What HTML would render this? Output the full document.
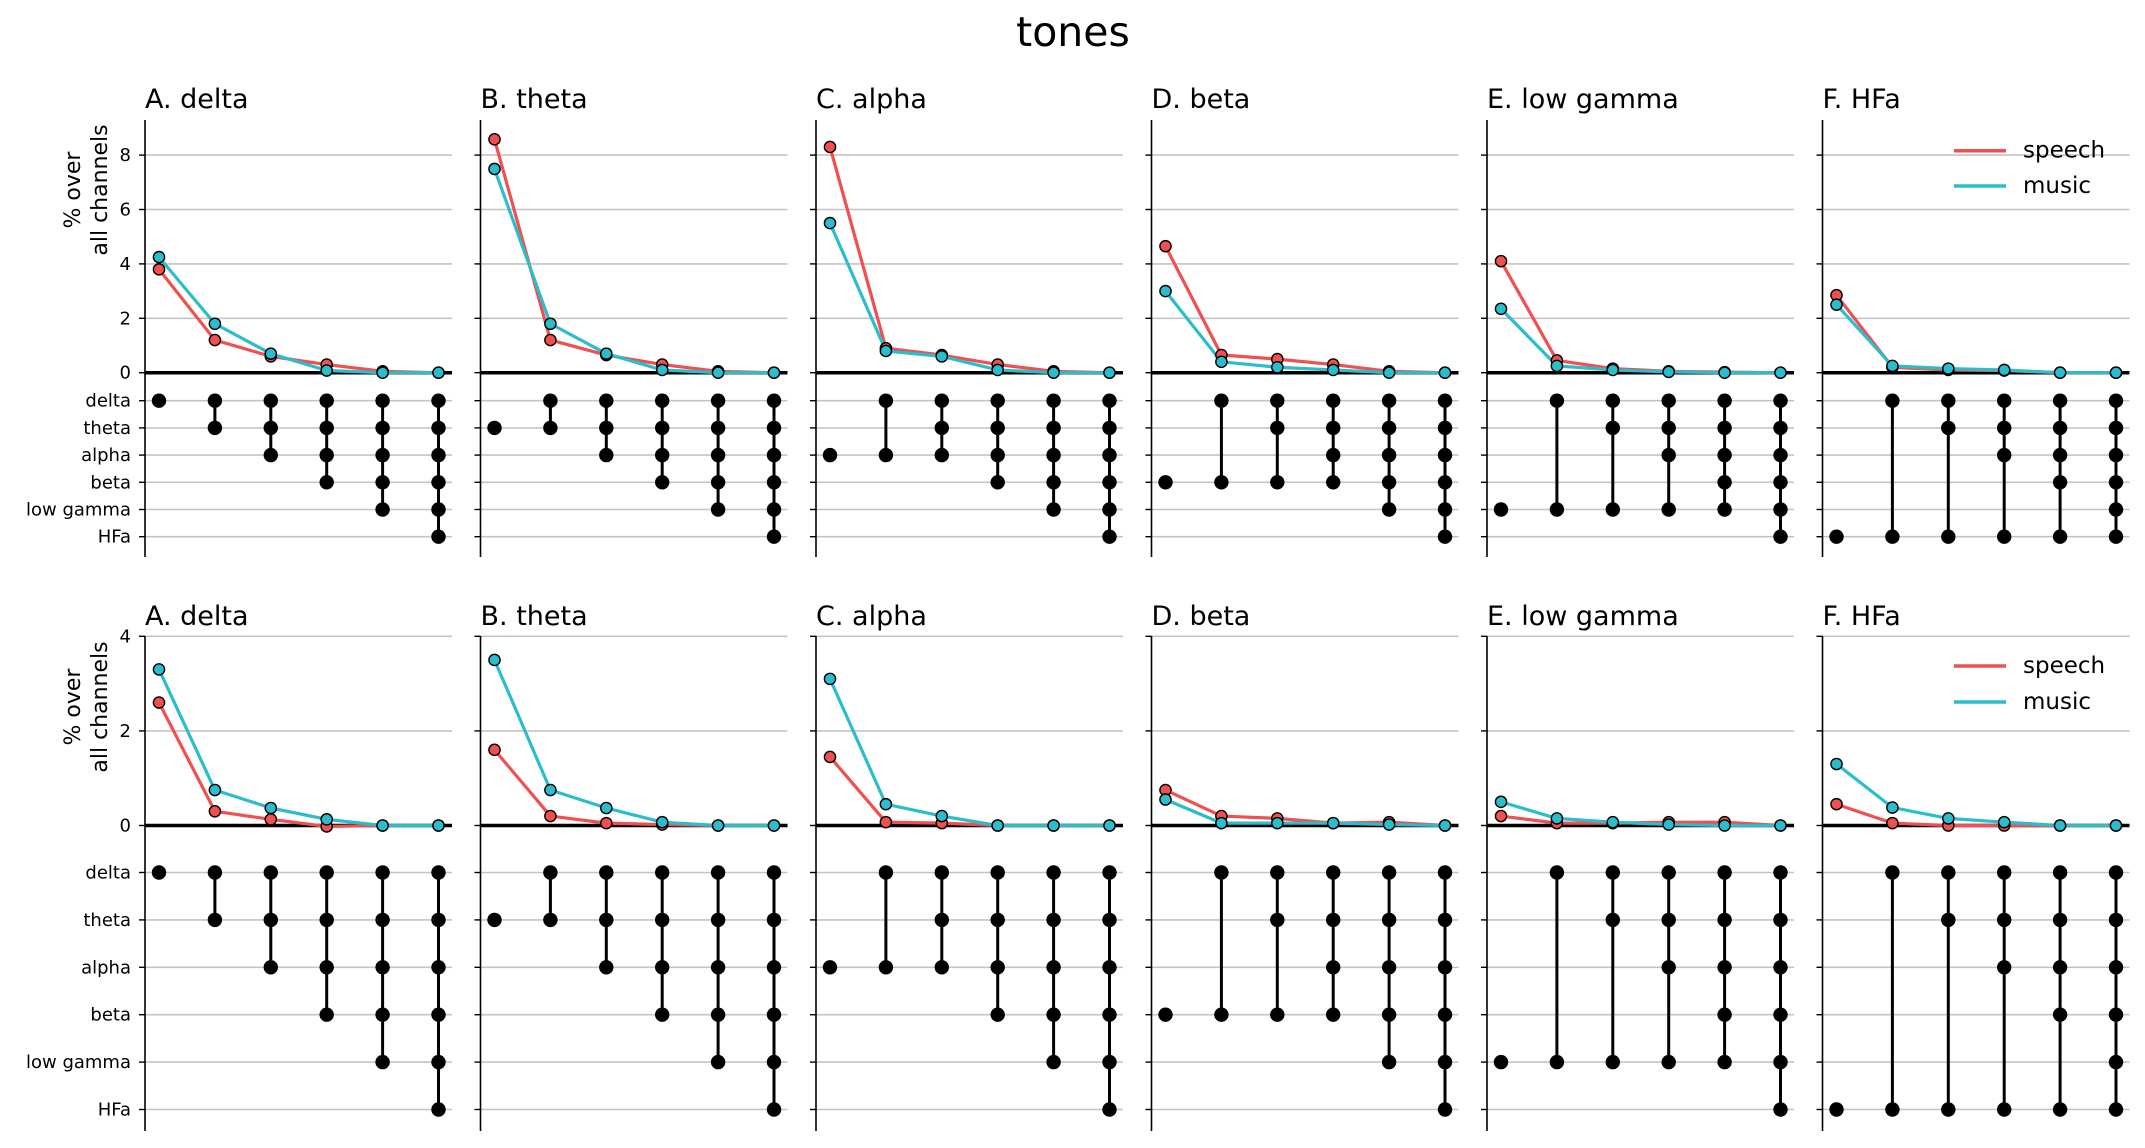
<!DOCTYPE html>
<html><head><meta charset="utf-8"><style>
html,body{margin:0;padding:0;background:#fff;}
svg{display:block;font-family:"DejaVu Sans","Liberation Sans",sans-serif;}
</style></head><body>
<svg id="fig" width="2145" height="1148" viewBox="0 0 2145 1148" xmlns="http://www.w3.org/2000/svg">
<text x="1073" y="46" font-size="41" text-anchor="middle" fill="#000">tones</text>
</svg>
<script>
const panelTitles = ["A. delta","B. theta","C. alpha","D. beta","E. low gamma","F. HFa"];
const bandLabels = ["delta","theta","alpha","beta","low gamma","HFa"];
const topTicks = [0,2,4,6,8];
const botTicks = [0,2,4];
const topSpeech = [
 [3.8,1.2,0.6,0.3,0.05,0],
 [8.58,1.2,0.65,0.3,0.05,0],
 [8.3,0.9,0.65,0.3,0.05,0],
 [4.65,0.65,0.5,0.3,0.05,0],
 [4.1,0.45,0.15,0.05,0.02,0],
 [2.85,0.2,0.1,0.08,0,0]];
const topMusic = [
 [4.25,1.8,0.7,0.08,0,0],
 [7.49,1.8,0.7,0.1,0,0],
 [5.5,0.8,0.6,0.1,0,0],
 [3.0,0.4,0.2,0.1,0,0],
 [2.35,0.25,0.1,0.03,0,0],
 [2.5,0.25,0.15,0.1,0,0]];
const botSpeech = [
 [2.6,0.3,0.13,-0.02,0,0],
 [1.6,0.2,0.05,0.02,0,0],
 [1.45,0.07,0.05,0,0,0],
 [0.75,0.2,0.15,0.05,0.07,0],
 [0.2,0.05,0.05,0.07,0.07,0],
 [0.45,0.05,0,0,0,0]];
const botMusic = [
 [3.3,0.75,0.37,0.13,0,0],
 [3.5,0.75,0.37,0.07,0,0],
 [3.1,0.45,0.2,0,0,0],
 [0.55,0.05,0.05,0.05,0.02,0],
 [0.5,0.15,0.07,0.02,0,0],
 [1.3,0.38,0.15,0.07,0,0]];
const seriesNames = ["speech","music"];

const NS="http://www.w3.org/2000/svg";
const svg=document.getElementById('fig');
const RED="#f05050", CYAN="#2bbdcc";
function mk(tag,attrs,parent){const e=document.createElementNS(NS,tag);for(const k in attrs)e.setAttribute(k,attrs[k]);(parent||svg).appendChild(e);return e;}

function combo(k,j){
  if(j===0) return [k];
  const s=[];for(let i=0;i<j;i++)s.push(i);
  if(k>j-1){s.push(k);} else s.push(j);
  return s;
}

const rows=[
 {top:120,zero:372.7,ppu:27.2,ticks:topTicks,sp:topSpeech,mu:topMusic,row0:400.7,rowStep:27.2,bottom:557,titleY:108,ylabY:190,legY:[150.7,186]},
 {top:636,zero:825.5,ppu:47.3,ticks:botTicks,sp:botSpeech,mu:botMusic,row0:872.5,rowStep:47.4,bottom:1131,titleY:625,ylabY:707,legY:[666,702]}
];

rows.forEach((R,ri)=>{
  for(let p=0;p<6;p++){
    const L=145+p*335.5, Rt=L+307;
    const g=mk('g',{});
    
    
    const yv=v=>R.zero-v*R.ppu;
    const xc=j=>L+14+j*55.9;
    const t=mk('text',{x:L,y:R.titleY,'font-size':27,fill:'#000'},g);t.textContent=panelTitles[p];
    
    
    R.ticks.forEach(v=>{
      const y=yv(v);
      if(v!==0){const gl=mk('line',{x1:L,x2:Rt,y1:y,y2:y,stroke:'#c4c4c4','stroke-width':1.6},g);
        
        }
      mk('line',{x1:L-6,x2:L,y1:y,y2:y,stroke:'#000','stroke-width':1.4},g);
      if(p===0){const tl=mk('text',{x:L-14,y:y+6,'font-size':18,'text-anchor':'end',fill:'#000'},g);tl.textContent=v;
        
        }
    });
    bandLabels.forEach((b,i)=>{
      const y=R.row0+i*R.rowStep;
      const gl=mk('line',{x1:L,x2:Rt,y1:y,y2:y,stroke:'#c4c4c4','stroke-width':1.6},g);
      
      
      mk('line',{x1:L-6,x2:L,y1:y,y2:y,stroke:'#000','stroke-width':1.4},g);
      if(p===0){const tl=mk('text',{x:L-14,y:y+6,'font-size':18,'text-anchor':'end',fill:'#000'},g);tl.textContent=b;
        
        }
    });
    const ax=mk('line',{x1:L,x2:L,y1:R.top,y2:R.bottom,stroke:'#000','stroke-width':1.6},g);
    
    
    const zl=mk('line',{x1:L,x2:Rt,y1:R.zero,y2:R.zero,stroke:'#000','stroke-width':3.5},g);
    
    
    for(let j=0;j<6;j++){
      const s=combo(p,j);const mn=Math.min(...s),mx=Math.max(...s);
      if(mx>mn){const cl=mk('line',{x1:xc(j),x2:xc(j),y1:R.row0+mn*R.rowStep,y2:R.row0+mx*R.rowStep,stroke:'#000','stroke-width':3},g);
        
        }
      s.forEach(i=>{const d=mk('circle',{cx:xc(j),cy:R.row0+i*R.rowStep,r:7.2,fill:'#000'},g);
        
        });
    }
    [[R.sp[p],RED,'speech'],[R.mu[p],CYAN,'music']].forEach(([vals,col,nm])=>{
      const pts=vals.map((v,j)=>xc(j)+','+yv(v)).join(' ');
      const pl=mk('polyline',{points:pts,fill:'none',stroke:col,'stroke-width':3.2,'stroke-linejoin':'round'},g);
      
      
    });
    [[R.sp[p],RED,'speech'],[R.mu[p],CYAN,'music']].forEach(([vals,col,nm])=>{
      vals.forEach((v,j)=>{const c=mk('circle',{cx:xc(j),cy:yv(v),r:5.6,fill:col,stroke:'#000','stroke-width':1.4},g);
        
        });
    });
    if(p===0){
      const yl=mk('text',{transform:`translate(80,${R.ylabY}) rotate(-90)`,'font-size':22,'text-anchor':'middle',fill:'#000'},g);
      
      
      const a=mk('tspan',{x:0,y:0},yl);a.textContent='% over';
      const b=mk('tspan',{x:0,y:27},yl);b.textContent='all channels';
    }
    if(p===5){
      seriesNames.forEach((nm,k)=>{
        const y=R.legY[k];
        const lg=mk('g',{},g);
        
        
        mk('line',{x1:1954,x2:2006,y1:y,y2:y,stroke:k===0?RED:CYAN,'stroke-width':3.5},lg);
        const tx=mk('text',{x:2023,y:y+7,'font-size':23,fill:'#000'},lg);tx.textContent=nm;
      });
    }
  }
});
</script>
</body></html>
